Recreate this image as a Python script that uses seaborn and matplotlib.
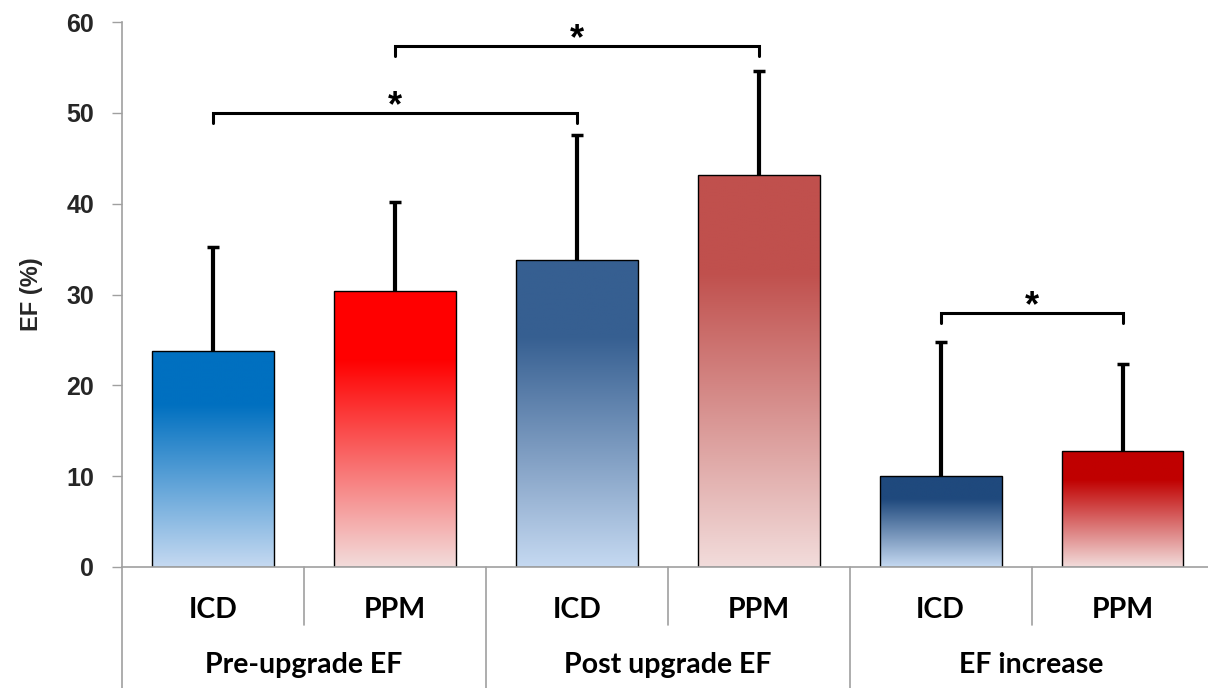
import numpy as np
import pandas as pd
import matplotlib
matplotlib.use("Agg")
import matplotlib.pyplot as plt
import matplotlib.colors as mcolors
import matplotlib.transforms as mtransforms
import seaborn as sns

# ---------- data ----------
groups = ["Pre-upgrade EF", "Post upgrade EF", "EF increase"]
devices = ["ICD", "PPM", "ICD", "PPM", "ICD", "PPM"]
bar_groups = ["Pre-upgrade EF", "Pre-upgrade EF", "Post upgrade EF", "Post upgrade EF",
              "EF increase", "EF increase"]
means = [23.8, 30.4, 33.8, 43.2, 10.0, 12.8]
sds = [11.4, 9.8, 13.8, 11.4, 14.8, 9.6]
top_colors = ["#0070C0", "#FF0000", "#365F91", "#C0504D", "#1F497D", "#C00000"]
bottom_colors = ["#C5D9F1", "#F2DCDB", "#C5D9F1", "#F2DCDB", "#C5D9F1", "#F2DCDB"]
# significance brackets: (left bar, right bar, bracket height)
brackets = [(0, 2, 50.0), (1, 3, 57.4), (4, 5, 28.0)]
yticks = [0, 10, 20, 30, 40, 50, 60]

df = pd.DataFrame({"bar": [f"{g}|{d}" for g, d in zip(bar_groups, devices)],
                   "mean": means, "sd": sds})

sns.set_theme(style="white")
plt.rcParams["font.family"] = ["Liberation Sans", "DejaVu Sans"]
arial = ["Liberation Sans", "DejaVu Sans"]

fig = plt.figure(figsize=(12.08, 6.88), dpi=100)
ax = fig.add_axes([122 / 1208, 1 - 567 / 688, 1 - 122 / 1208, (567 - 22) / 688])

sns.barplot(data=df, x="bar", y="mean", hue="bar", palette=top_colors, width=0.67,
            legend=False, ax=ax, edgecolor="black", linewidth=1.0, errorbar=None)

# gradient fill clipped to each bar
for patch, c_top, c_bot in zip(ax.patches, top_colors, bottom_colors):
    x0, y0 = patch.get_x(), patch.get_y()
    w, h = patch.get_width(), patch.get_height()
    t = np.linspace(0, 1, 256)[:, None]  # 0 = top, 1 = bottom
    frac = np.clip((t - 0.25) / 0.75, 0, 1)
    ct = np.array(mcolors.to_rgb(c_top))
    cb = np.array(mcolors.to_rgb(c_bot))
    img = (ct[None, None, :] * (1 - frac[..., None]) + cb[None, None, :] * frac[..., None])
    im = ax.imshow(img, extent=[x0, x0 + w, y0, y0 + h], aspect="auto",
                   origin="upper", zorder=patch.get_zorder() - 0.01, interpolation="bilinear")
    im.set_clip_path(patch)
    patch.set_facecolor("none")

# upper-only error bars (hide the lower cap)
xs = np.arange(len(means))
eb = ax.errorbar(xs, means, yerr=[np.zeros(len(sds)), sds], fmt="none", ecolor="black",
                 elinewidth=3, capsize=4.5, capthick=2.5, zorder=5)
eb[1][0].set_visible(False)

# significance brackets
for i, j, yb in brackets:
    ax.plot([i, i, j, j], [yb - 1.1, yb, yb, yb - 1.1], color="black", lw=2.2,
            solid_joinstyle="miter", zorder=6)
    ax.text((i + j) / 2, yb - 0.4, "*", ha="center", va="baseline", fontsize=26,
            fontweight="bold", family=arial, color="black", zorder=6)

ax.set_xlim(-0.5, 5.47)
ax.set_ylim(0, 60)
ax.set_yticks(yticks)
ax.set_yticklabels([str(v) for v in yticks], fontsize=18, fontweight="bold", family=arial)
ax.tick_params(axis="y", length=7, width=1, color="#A0A0A0", pad=13, left=True)
ax.set_ylabel("EF (%)", fontsize=17, fontweight="bold", family=arial, labelpad=17)
ax.set_xlabel("")
ax.set_xticks([])

for side in ["top", "right"]:
    ax.spines[side].set_visible(False)
for side in ["left", "bottom"]:
    ax.spines[side].set_color("#A0A0A0")
    ax.spines[side].set_linewidth(1.2)

# two-level category axis
trans = mtransforms.blended_transform_factory(ax.transData, ax.transAxes)
label_font = dict(family=["Lato", "DejaVu Sans"], fontweight="bold", color="black")
for k, d in enumerate(devices):
    ax.text(k, -43 / 545, d, transform=trans, ha="center", va="center", fontsize=20.5, **label_font)
for g_idx, g in enumerate(groups):
    ax.text(2 * g_idx + 0.5, -98 / 545, g, transform=trans, ha="center", va="center",
            fontsize=20.5, **label_font)
for k in range(7):
    xb = k - 0.5
    y_end = -0.23 if k % 2 == 0 else -58 / 545
    ax.plot([xb, xb], [0, y_end], transform=trans, color="#A0A0A0", lw=1.2, clip_on=False)

fig.savefig("out.png", dpi=100)
